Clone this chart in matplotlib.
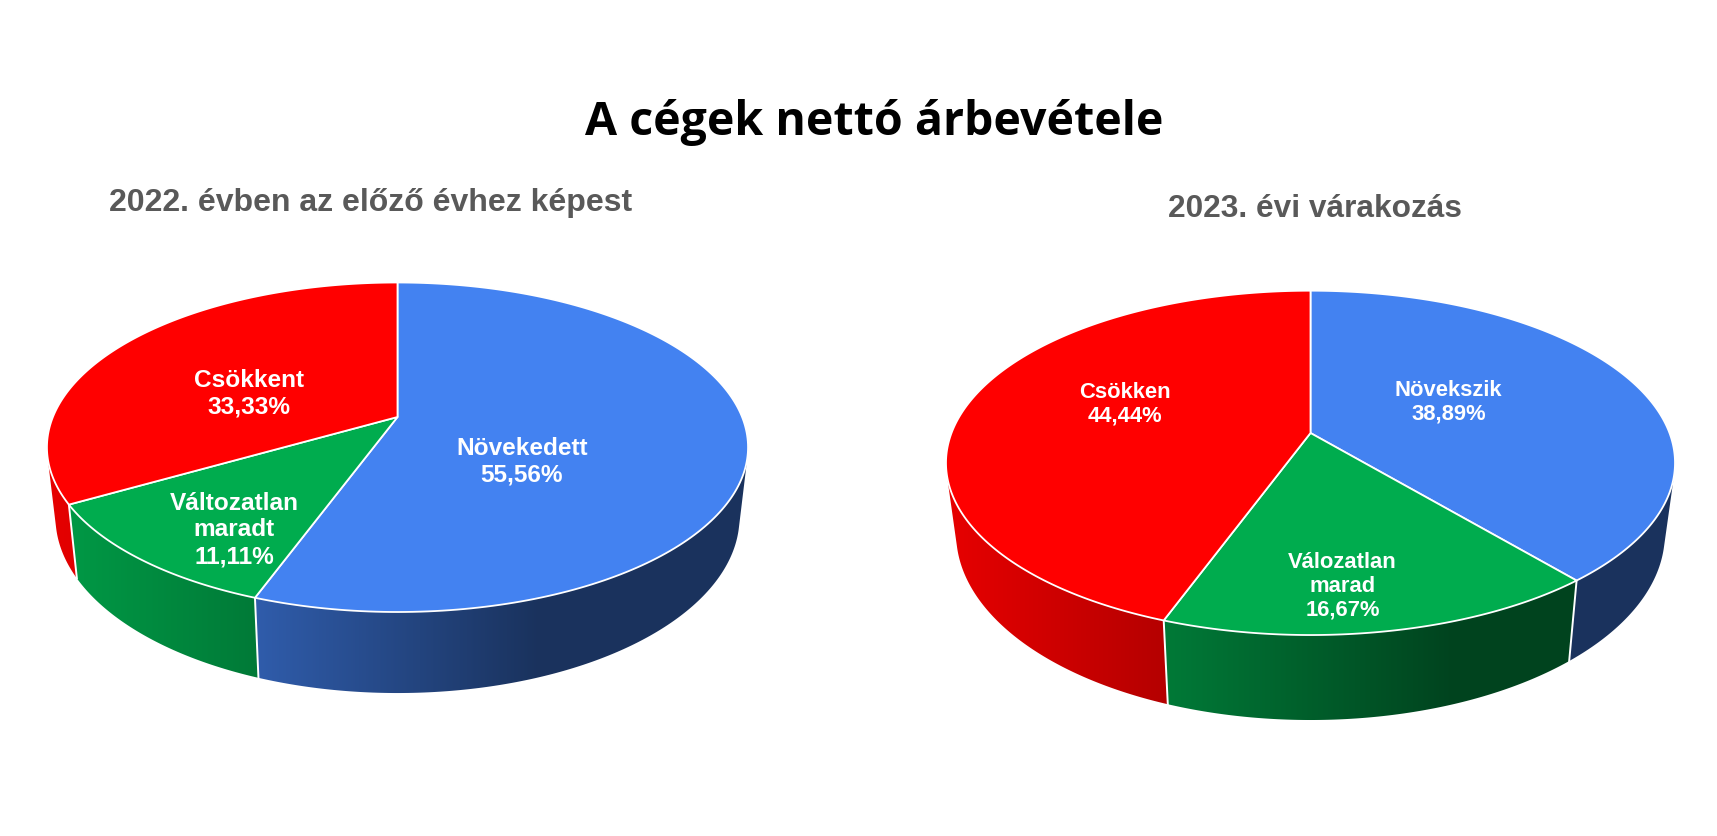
import numpy as np
import matplotlib
matplotlib.use("Agg")
import matplotlib.pyplot as plt
from matplotlib.patches import Polygon

# ---- data ----
title = "A cégek nettó árbevétele"
left_title = "2022. évben az előző évhez képest"
right_title = "2023. évi várakozás"
left_categories = ["Növekedett", "Változatlan\nmaradt", "Csökkent"]
left_values = [55.56, 11.11, 33.33]
right_categories = ["Növekszik", "Válozatlan\nmarad", "Csökken"]
right_values = [38.89, 16.67, 44.44]

# ---- style ----
BLUE, GREEN, RED = "#4382F1", "#00AC4E", "#FF0000"
colors = [BLUE, GREEN, RED]
SHADE_X = [-1.0, -0.41, 0.40, 1.0]
SHADE_F = [0.90, 0.71, 0.39, 0.39]

# geometry in pixels: centre x, apex y, top radius, top k, perspective c, bottom radius, bottom k, bottom y0
left_geo = dict(cx=397.5, ay=417.0, R=344.6, k=159.2, c=0.1836, R2=336.2, k2=170.0, y2=484.8)
right_geo = dict(cx=1310.5, ay=433.0, R=359.0, k=167.0, c=0.1734, R2=349.0, k2=180.7, y2=501.4)
left_label_pos = [(522, 462), (234, 530), (248.5, 393.5)]
right_label_pos = [(1448.5, 402), (1342.5, 586), (1124.5, 404)]

fig = plt.figure(figsize=(17.17, 8.36), dpi=100, facecolor="white")
ax = fig.add_axes([0, 0, 1, 1])
ax.set_xlim(0, 1717)
ax.set_ylim(836, 0)
ax.set_autoscale_on(False)
ax.axis("off")


def top_pt(g, th):
    u, v = np.sin(th), np.cos(th)
    d = 1 + g["c"] * v
    return np.c_[g["cx"] + g["R"] * u / d, g["ay"] - g["k"] * v / d]


def bot_pt(g, th):
    u, v = np.sin(th), np.cos(th)
    d = 1 + g["c"] * v
    return np.c_[g["cx"] + g["R2"] * u / d, g["y2"] - g["k2"] * v / d]


def convex_hull(points):
    pts = sorted(map(tuple, points))

    def half(seq):
        out = []
        for p in seq:
            while len(out) >= 2 and ((out[-1][0] - out[-2][0]) * (p[1] - out[-2][1])
                                     - (out[-1][1] - out[-2][1]) * (p[0] - out[-2][0])) <= 0:
                out.pop()
            out.append(p)
        return out[:-1]

    return np.array(half(pts) + half(pts[::-1]))


def draw_pie(g, values, categories, label_pos, fontsize, linespacing):
    edges = np.radians(np.r_[0, np.cumsum(values)] * 360.0 / np.sum(values))
    xn = np.linspace(-1.05, 1.05, 500)
    shade = np.interp(xn, SHADE_X, SHADE_F)
    x0, x1 = g["cx"] - 1.05 * g["R"], g["cx"] + 1.05 * g["R"]
    # side wall of every slice: a horizontal shading clipped to the wall outline
    for i in range(len(values)):
        a = max(edges[i], np.pi / 2)
        b = min(edges[i + 1], 1.5 * np.pi)
        if b <= a:
            continue
        ths = np.linspace(a, b, 200)
        wall = convex_hull(np.vstack([top_pt(g, ths), bot_pt(g, ths)]))
        poly = Polygon(wall, closed=True, transform=ax.transData, facecolor="none", edgecolor="none")
        ax.add_patch(poly)
        img = np.outer(shade, np.array(matplotlib.colors.to_rgb(colors[i])))[None, :, :]
        im = ax.imshow(img, extent=(x0, x1, 800, 250), aspect="auto", interpolation="bilinear", zorder=2)
        im.set_clip_path(poly)
    # seams between slices on the visible wall
    for e in edges[:-1]:
        if np.cos(e) < 0:
            s = np.vstack([top_pt(g, np.array([e])), bot_pt(g, np.array([e]))])
            ax.plot(s[:, 0], s[:, 1], color="white", lw=1.4, zorder=3)
    # top faces
    for i in range(len(values)):
        ths = np.linspace(edges[i], edges[i + 1], 200)
        rim = top_pt(g, ths)
        face = np.vstack([[g["cx"], g["ay"]], rim])
        ax.add_patch(Polygon(face, closed=True, facecolor=colors[i], edgecolor="white",
                             lw=1.3, joinstyle="round", zorder=4))
    for (x, y), cat, val in zip(label_pos, categories, values):
        txt = f"{cat}\n{val:.2f}%".replace(".", ",")
        ax.text(x, y, txt, color="white", ha="center", va="center", fontsize=fontsize,
                fontweight="bold", family="Liberation Sans", linespacing=linespacing, zorder=6)


draw_pie(left_geo, left_values, left_categories, left_label_pos, 17.6, 1.2)
draw_pie(right_geo, right_values, right_categories, right_label_pos, 15.8, 1.17)

ax.text(874, 122, title, ha="center", va="center", fontsize=33.5, fontweight="bold",
        family="Open Sans", color="black")
ax.text(371, 203, left_title, ha="center", va="center", fontsize=23, fontweight="bold",
        family="Liberation Sans", color="#595959")
ax.text(1315, 209, right_title, ha="center", va="center", fontsize=22.8, fontweight="bold",
        family="Liberation Sans", color="#595959")

fig.savefig("out.png", dpi=100, facecolor="white")
